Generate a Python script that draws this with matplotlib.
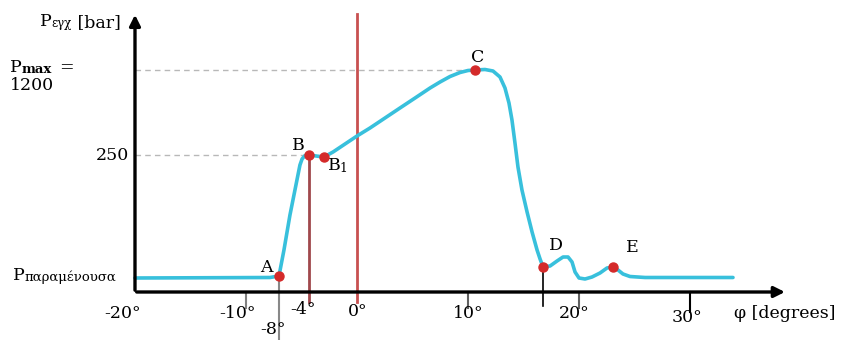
import matplotlib.pyplot as plt

plt.rcParams['font.family'] = ['DejaVu Serif']
plt.rcParams['mathtext.fontset'] = 'dejavuserif'

# curve: crank angle (deg) and schematic height above the phi axis
phi = [-20.0, -7.84, -7.03, -6.58, -6.04, -5.50, -5.14, -4.95, -4.68, -4.32,
       -3.69, -2.97, -2.16, -1.08, 0.0, 1.17, 2.52, 3.87, 5.23, 6.58, 7.48,
       8.38, 9.28, 10.0, 10.63, 11.53, 12.25, 12.88, 13.33, 13.69, 13.96,
       14.23, 14.50, 14.86, 15.32, 15.77, 16.22, 16.49, 16.76, 17.39, 18.02,
       18.56, 19.01, 19.37, 19.64, 20.0, 20.54, 21.17, 21.89, 22.52, 23.06,
       23.51, 23.96, 24.59, 25.95, 33.87]
p = [14, 14.5, 16, 42, 77, 107, 127, 133, 136.5, 137,
     136, 135, 140, 148, 156, 164, 174, 184, 194, 204, 210,
     215.5, 219.5, 221.5, 222, 222.5, 221, 215, 204, 189, 172,
     149, 125, 102, 80, 60, 42, 33, 25, 26, 31,
     35, 35, 30, 20, 14, 13, 15, 19, 24, 25,
     22, 18, 15.5, 14.5, 14.5]

# marked points A, B, B1, C, D, E
pt_phi = [-7.03, -4.32, -2.97, 10.63, 16.76, 23.06]
pt_p = [16, 137, 135, 222, 25, 25]

h_rest = 14
h_250 = 137
h_max = 222

fig = plt.figure(figsize=(8.51, 3.40), dpi=100)
ax = fig.add_axes([0, 0, 1, 1])
ax.set_xlim(-32.16, 44.5)
ax.set_ylim(-48, 292)
ax.axis('off')

# dashed guide lines
ax.plot([-20, pt_phi[3]], [h_max, h_max], ls=(0, (4, 3)), color='#b8b8b8', lw=1)
ax.plot([-20, pt_phi[1]], [h_250, h_250], ls=(0, (4, 3)), color='#b8b8b8', lw=1)

# vertical markers
ax.plot([pt_phi[0], pt_phi[0]], [pt_p[0], -48], color='#888888', lw=1.5)
ax.plot([pt_phi[1], pt_phi[1]], [pt_p[1], -10], color='#a0484c', lw=2)
ax.plot([0, 0], [278, -10], color='#c85050', lw=2)
ax.plot([pt_phi[4], pt_phi[4]], [pt_p[4], -14], color='black', lw=1.2)
for t, c, ln in [(-10, '#808080', -16), (10, '#606060', -16), (20, '#606060', -16), (30, 'black', -20)]:
    ax.plot([t, t], [0, ln], color=c, lw=1.5)

# axes with arrows
ax.annotate('', xy=(-20, 280), xytext=(-20, -1),
            arrowprops=dict(arrowstyle='-|>', lw=2.4, color='black', mutation_scale=16))
ax.annotate('', xy=(38.8, 0), xytext=(-20.1, 0),
            arrowprops=dict(arrowstyle='-|>', lw=2.4, color='black', mutation_scale=16))

# curve and points
ax.plot(phi, p, color='#38c0dc', lw=2.6, solid_capstyle='round', solid_joinstyle='round')
ax.plot(pt_phi, pt_p, 'o', color='#d42a2a', ms=6.5, zorder=5)

fs = 12.5
# point labels
ax.text(-8.2, 24, 'A', fontsize=fs, ha='center', va='center')
ax.text(-5.3, 147, 'B', fontsize=fs, ha='center', va='center')
ax.text(-1.75, 126, r'B$_1$', fontsize=fs, ha='center', va='center')
ax.text(10.9, 235, 'C', fontsize=fs, ha='center', va='center')
ax.text(17.9, 47, 'D', fontsize=fs, ha='center', va='center')
ax.text(24.8, 44, 'E', fontsize=fs, ha='center', va='center')

# x tick labels
for x, y, s in [(-21.1, -21, '-20°'), (-10.8, -21, '-10°'), (-4.86, -18, '-4°'),
                (0.1, -20, '0°'), (-7.6, -38, '-8°'), (10.0, -21, '10°'),
                (19.6, -21, '20°'), (29.7, -26, '30°')]:
    ax.text(x, y, s, fontsize=fs, ha='center', va='center')
ax.text(34.0, -21, 'φ [degrees]', fontsize=fs, ha='left', va='center')

# y labels
t1 = ax.text(-28.6, 270, 'P', fontsize=fs, ha='left', va='center')
t1b = ax.annotate('εγχ', xy=(1, 0.05), xycoords=t1, fontsize=8.5, ha='left', va='bottom')
ax.annotate(' [bar]', xy=(1, -0.1), xycoords=t1b, fontsize=fs, ha='left', va='bottom')
t2 = ax.text(-31.3, 224, 'P', fontsize=fs, ha='left', va='center')
ax.annotate('max', xy=(1, 0.02), xycoords=t2, fontsize=9.5, ha='left', va='bottom', fontweight='bold')
ax.text(-26.8, 224, '=', fontsize=fs, ha='left', va='center')
ax.text(-31.3, 206, '1200', fontsize=fs, ha='left', va='center')
ax.text(-23.5, 137, '250', fontsize=fs, ha='left', va='center')
t3 = ax.text(-31.0, 16, 'P', fontsize=fs, ha='left', va='center')
ax.annotate('παραμένουσα', xy=(1, 0.0), xycoords=t3, fontsize=9.5, ha='left', va='bottom')

fig.savefig('out.png', dpi=100)
